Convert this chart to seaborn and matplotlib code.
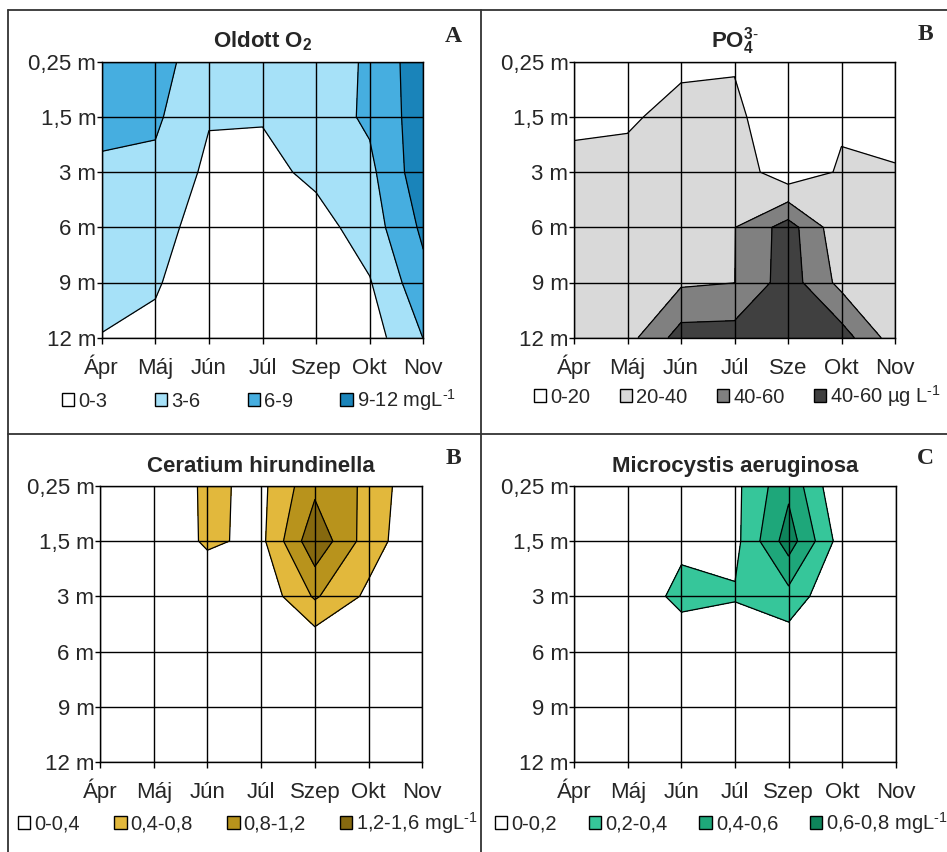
import matplotlib
matplotlib.use("Agg")
import matplotlib.pyplot as plt
import seaborn as sns
import numpy as np
from matplotlib.patches import Patch
from matplotlib.lines import Line2D

sns.set_theme(style="white")
plt.rcParams["font.family"] = ["Liberation Sans", "DejaVu Sans"]
plt.rcParams["mathtext.fontset"] = "custom"
plt.rcParams["mathtext.rm"] = "Liberation Sans"
plt.rcParams["mathtext.default"] = "regular"

# depth rows (top -> bottom) and months (columns)
depths = ["0,25 m", "1,5 m", "3 m", "6 m", "9 m", "12 m"]
months = ["Ápr", "Máj", "Jún", "Júl", "Szep", "Okt", "Nov"]
months_b = ["Ápr", "Máj", "Jún", "Júl", "Sze", "Okt", "Nov"]

# dissolved oxygen, mg/L
oxygen = [
    [8.0, 7.0, 4.5, 4.5, 4.5, 6.4, 11.0],
    [7.0, 6.5, 3.2, 3.2, 4.5, 6.5, 10.7],
    [5.4, 5.3, 2.4, 2.1, 3.7, 5.3, 11.0],
    [4.5, 4.0, 1.8, 1.0, 1.8, 4.5, 9.6],
    [4.0, 3.3, 1.0, 0.5, 1.0, 2.8, 8.1],
    [2.9, 2.3, 0.5, 0.5, 0.5, 1.6, 6.05],
]
oxygen_levels = [-1, 3, 6, 9, 12]
oxygen_labels = ["0-3", "3-6", "6-9", "9-12 mgL$^{\\text{-1}}$"]
oxygen_colors = ["#ffffff", "#a6e1f8", "#46aee0", "#1a84ba"]

# phosphate, ug/L
phosphate = [
    [10, 12, 15, 18.5, 8, 10, 8],
    [17, 16.6, 28, 24, 6.6, 17, 15],
    [24, 28, 32, 32.7, 6.25, 22.6, 21],
    [26, 30, 35, 39.5, 68.75, 25.2, 28],
    [27, 35, 37.2, 39.8, 70, 33.9, 30],
    [27, 33, 68.6, 69, 75, 69.6, 29.6],
]
phosphate_levels = [-1, 20, 40, 60, 80]
phosphate_labels = ["0-20", "20-40", "40-60", "40-60 µg L$^{\\text{-1}}$"]
phosphate_colors = ["#ffffff", "#d9d9d9", "#808080", "#404040"]

# Ceratium hirundinella, mg/L
ceratium = [
    [0, 0.05, 0.48, 0.3, 1.1, 0.72, 0],
    [0, 0.05, 0.47, 0.3, 1.5, 0.6, 0.05],
    [0, 0, 0.05, 0.1, 0.85, 0.31, 0],
    [0, 0, 0, 0, 0.03, 0, 0],
    [0, 0, 0, 0, 0, 0, 0],
    [0, 0, 0, 0, 0, 0, 0],
]
ceratium_levels = [-1, 0.4, 0.8, 1.2, 1.6]
ceratium_labels = ["0-0,4", "0,4-0,8", "0,8-1,2", "1,2-1,6 mgL$^{\\text{-1}}$"]
ceratium_colors = ["#ffffff", "#e2b83c", "#b8931c", "#86690f"]

# Microcystis aeruginosa, mg/L
microcystis = [
    [0, 0, 0, 0.15, 0.55, 0, 0],
    [0, 0, 0.14, 0.14, 0.7, 0.1, 0],
    [0, 0.01, 0.28, 0.222, 0.33, 0, 0],
    [0, 0, 0, 0, 0.05, 0, 0],
    [0, 0, 0, 0, 0, 0, 0],
    [0, 0, 0, 0, 0, 0, 0],
]
microcystis_levels = [-1, 0.2, 0.4, 0.6, 0.8]
microcystis_labels = ["0-0,2", "0,2-0,4", "0,4-0,6", "0,6-0,8 mgL$^{\\text{-1}}$"]
microcystis_colors = ["#ffffff", "#36c69a", "#1ea77a", "#0e845b"]

W, H = 947, 852
fig = plt.figure(figsize=(W / 100, H / 100), dpi=100)


def rect(l, r, t, b):
    return [l / W, 1 - b / H, (r - l) / W, (b - t) / H]


def panel(box, data, levels, colors, xlabels, title, letter, letter_xy,
          labels, legend_box):
    ax = fig.add_axes(rect(*box))
    z = np.array(data, dtype=float)
    xs = np.arange(z.shape[1])
    ys = np.arange(z.shape[0])
    ax.contourf(xs, ys, z, levels=levels, colors=colors)
    ax.contour(xs, ys, z, levels=levels[1:-1], colors="black", linewidths=0.9)
    ax.set_xlim(0, len(xs) - 1)
    ax.set_ylim(len(ys) - 1, 0)
    ax.set_xticks(xs)
    ax.set_yticks(ys)
    ax.set_xticklabels(xlabels, fontsize=16, va="baseline")
    ax.set_yticklabels(depths, fontsize=16)
    ax.grid(True, color="black", linewidth=1)
    ax.set_axisbelow(False)
    for s in ax.spines.values():
        s.set_color("black")
        s.set_linewidth(1)
    ax.tick_params(axis="y", left=True, length=3.5, width=1, pad=0.5,
                   color="black")
    ax.tick_params(axis="x", bottom=True, length=4, width=1, pad=22,
                   color="black")
    ax.set_title(title, fontsize=16, fontweight="bold", pad=10)
    fig.text(letter_xy[0] / W, 1 - letter_xy[1] / H, letter,
             family="Liberation Serif", fontweight="bold", fontsize=17,
             ha="center", va="center")
    handles = [Patch(facecolor=c, edgecolor="black", linewidth=1) for c in colors]
    x0, x1, yc = legend_box
    ax.legend(handles, labels, ncol=4, mode="expand", loc="center",
              bbox_to_anchor=(x0 / W, 1 - (yc + 10) / H, (x1 - x0) / W, 20 / H),
              bbox_transform=fig.transFigure, frameon=False, fontsize=14.5,
              handlelength=0.62, handleheight=0.62, handletextpad=0.2,
              borderaxespad=0, borderpad=0)
    return ax


panel((101.7, 423.3, 61.7, 337.7), oxygen, oxygen_levels, oxygen_colors,
      months, "Oldott O$_2$", "A", (453, 36), oxygen_labels, (62, 456, 400))
panel((574, 895, 61.7, 337.7), phosphate, phosphate_levels, phosphate_colors,
      months_b, "PO$_4^{3\\text{-}}$", "B", (925, 34), phosphate_labels,
      (534, 941, 396))
panel((100, 422.3, 485.7, 762.3), ceratium, ceratium_levels, ceratium_colors,
      months, "Ceratium hirundinella", "B", (453, 458), ceratium_labels,
      (18, 478, 823))
panel((574.3, 895.7, 485.7, 762.3), microcystis, microcystis_levels,
      microcystis_colors, months, "Microcystis aeruginosa", "C", (925, 458),
      microcystis_labels, (495, 948, 823))

# panel frame lines
for xs_, ys_ in [((8, W), (10, 10)), ((8, 8), (10, H)), ((481, 481), (10, H)),
                 ((8, W), (434, 434))]:
    fig.add_artist(Line2D([x / W for x in xs_], [1 - y / H for y in ys_],
                          color="#333333", linewidth=1.3))

fig.savefig("out.png", dpi=100)
